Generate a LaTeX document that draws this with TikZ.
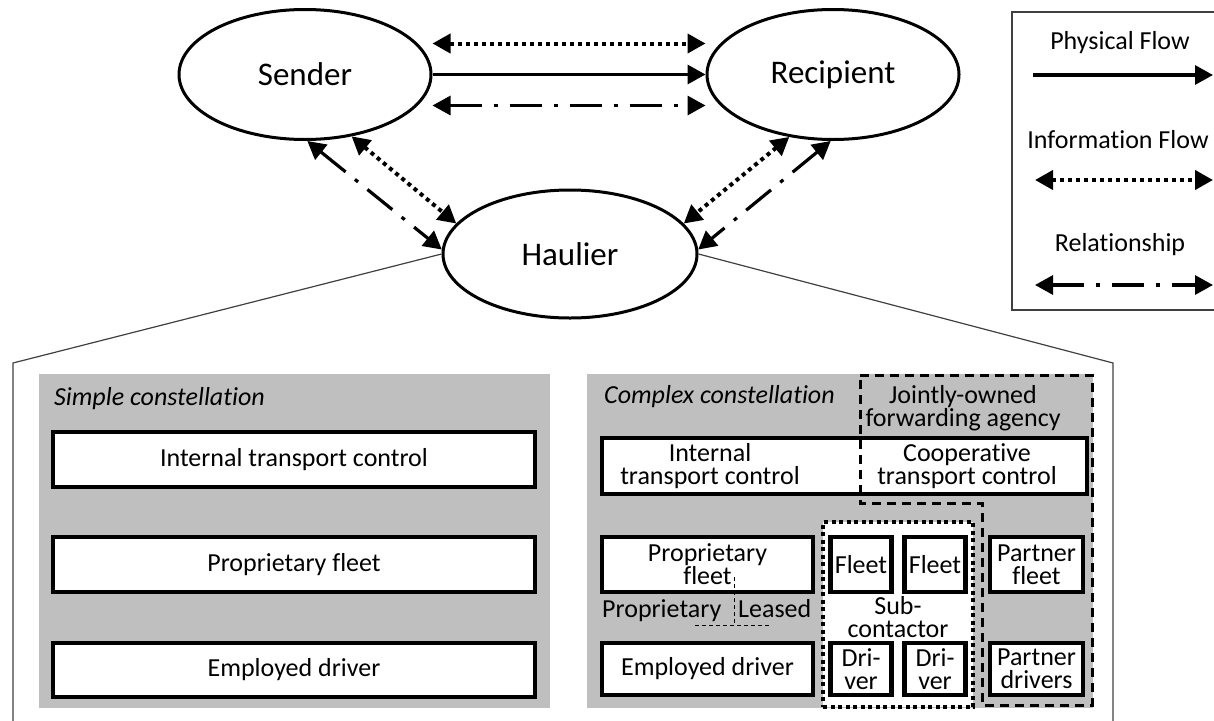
\documentclass[tikz,border=0pt]{standalone}
\usepackage{fontspec}
\setmainfont{Carlito}[Ligatures={NoCommon,NoRequired,NoContextual},RawFeature={-calt;-liga;-dlig}]
\usetikzlibrary{shapes.geometric,arrows.meta}
\begin{document}
\begin{tikzpicture}[x=1pt,y=-1pt,
  every node/.style={font=\fontsize{26}{23}\selectfont, inner sep=0pt, align=center},
  >={Triangle[length=18pt,width=19pt]},
  ell/.style={ellipse, draw, line width=3pt, fill=white, minimum width=252pt, minimum height=130pt, font=\fontsize{33}{36}\selectfont},
  phys/.style={line width=3.2pt, ->},
  info/.style={line width=4pt, dash pattern=on 4pt off 4pt, <->},
  rel/.style={line width=3.2pt, dash pattern=on 32pt off 12pt on 4pt off 12pt, <->},
  frameline/.style={line width=1.2pt, draw=black!75},
  panel/.style={fill=black!25, draw=none},
  wbox/.style={draw, line width=4.5pt, fill=white},
  ttl/.style={anchor=base west, font=\fontsize{26}{23}\selectfont\itshape},
  joint/.style={line width=3pt, dash pattern=on 9pt off 6pt},
  subbox/.style={draw, fill=white, line width=4pt, dash pattern=on 4pt off 3.5pt},
  thindash/.style={line width=1pt, dash pattern=on 4pt off 3pt}
]
\useasboundingbox (0,0) rectangle (1214,720);
\clip (0,0) rectangle (1214,720);

% ellipses
\node[ell] (S) at (305,74.5) {Sender};
\node[ell] (R) at (833,74.5) {Recipient};
\node[ell, minimum width=254pt, minimum height=128pt] (H) at (570,254) {Haulier};

% arrows among ellipses
\draw[info] ([yshift=31pt]S.east) -- ([yshift=31pt]R.west);
\draw[phys] (S.east) -- (R.west);
\draw[rel] ([yshift=-31pt]S.east) -- ([yshift=-31pt]R.west);
\draw[rel] (S.-88) -- (H.178);
\draw[info] (S.-53) -- (H.165);
\draw[info] (R.-125) -- (H.15);
\draw[rel] (R.-92) -- (H.2);

% outer frame
\coordinate (FL) at (13,363);
\coordinate (FLb) at (13,730);
\coordinate (FR) at (1113,363);
\coordinate (FRb) at (1113,730);
\draw[frameline] (H.west) -- (FL) -- (FLb);
\draw[frameline] (H.east) -- (FR) -- (FRb);

% legend
\node[draw, frameline, minimum width=218pt, minimum height=298pt] (leg) at (1121,161) {};
\node (lphys) at (1120,43) {Physical Flow};
\node (linfo) at (1118,140) {Information Flow};
\node (lrel) at (1120,245) {Relationship};
\coordinate (lp1) at (1033,75);  \coordinate (lp2) at (1213,75);
\coordinate (li1) at (1035,180); \coordinate (li2) at (1213,180);
\coordinate (lr1) at (1035,285); \coordinate (lr2) at (1213,285);
\draw[phys] (lp1) -- (lp2);
\draw[info] (li1) -- (li2);
\draw[rel] (lr1) -- (lr2);

% simple constellation
\node[panel, minimum width=511pt, minimum height=334pt] (simple) at (294.5,541) {};
\node[ttl] (stitle) at (54,405) {Simple constellation};
\node[wbox, minimum width=482pt, minimum height=55pt] (s1) at (294,459.5) {Internal transport control};
\node[wbox, minimum width=482pt, minimum height=55pt] (s2) at (294,564.5) {Proprietary fleet};
\node[wbox, minimum width=482pt, minimum height=54pt] (s3) at (294,670) {Employed driver};

% complex constellation
\node[panel, minimum width=506pt, minimum height=334pt] (complex) at (840,541) {};
\node[ttl] (ctitle) at (604,403) {Complex constellation};
\node (jtext) at (963,408.5) {Jointly-owned\\forwarding agency};
\node[wbox, minimum width=485pt, minimum height=56pt] (ctrl) at (844.5,466) {};
\node (itc) at (710,466) {Internal\\transport control};
\node (ctc) at (967,466) {Cooperative\\transport control};

\node[subbox, minimum width=150pt, minimum height=185pt] (sub) at (898,614.5) {};
\node (subtext) at (898,617.5) {Sub-\\contactor};

\node[wbox, minimum width=211pt, minimum height=55pt] (pf) at (707.5,564.5) {Proprietary\\fleet};
\node[wbox, minimum width=211pt, minimum height=52pt] (ed) at (707.5,669) {Employed driver};
\node[wbox, minimum width=61pt, minimum height=55pt] (f1) at (861,564.5) {Fleet};
\node[wbox, minimum width=61pt, minimum height=55pt] (f2) at (935,564.5) {Fleet};
\node[wbox, minimum width=61pt, minimum height=52pt] (d1) at (861,669) {Dri-\\ver};
\node[wbox, minimum width=61pt, minimum height=52pt] (d2) at (935,669) {Dri-\\ver};
\node[wbox, minimum width=93pt, minimum height=55pt] (pfl) at (1036.5,564.5) {Partner\\fleet};
\node[wbox, minimum width=93pt, minimum height=52pt] (pdr) at (1036.5,669) {Partner\\drivers};

\node[anchor=base west] (lprop) at (602,617) {Proprietary};
\node[anchor=base west] (lleas) at (738,617) {Leased};
\coordinate (tv1) at (734,577); \coordinate (tv2) at (734,625);
\coordinate (th1) at (695,625); \coordinate (th2) at (770,625);
\draw[thindash] (tv1) -- (tv2);
\draw[thindash] (th1) -- (th2);

% jointly-owned forwarding agency outline
\coordinate (j1) at (860,375);
\coordinate (j2) at (1092,375);
\coordinate (j3) at (1092,705);
\coordinate (j4) at (982,705);
\coordinate (j5) at (982,503);
\coordinate (j6) at (860,503);
\draw[joint] (j1) -- (j2) -- (j3) -- (j4) -- (j5) -- (j6) -- cycle;
\end{tikzpicture}
\end{document}
